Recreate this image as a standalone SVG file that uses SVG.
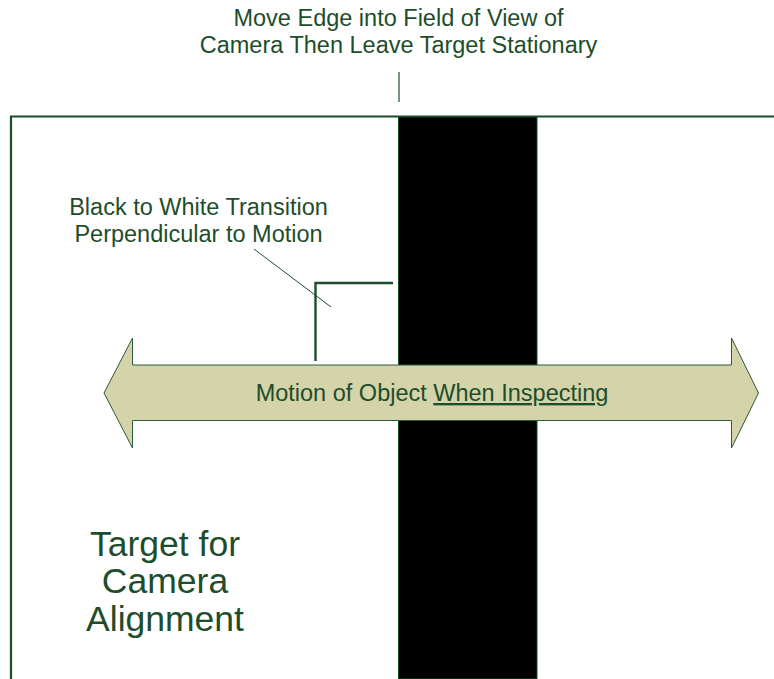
<svg xmlns="http://www.w3.org/2000/svg" width="774" height="679" viewBox="0 0 774 679">
<style>
  text { font-family: "Liberation Sans", Arial, sans-serif; fill: #1e4d2b; text-anchor: middle; }
  .lbl { font-size: 23.5px; }
  .big { font-size: 35.5px; }
  .ln { stroke: #1e4d2b; fill: none; }
</style>
<rect width="774" height="679" fill="#ffffff"/>
<g id="target">
  <path class="ln" d="M11,679 V116.5 H774" stroke-width="2.2"/>
  <rect x="398.5" y="117" width="138.5" height="562" fill="#000000" stroke="#1e4d2b" stroke-width="1"/>
  <text class="big" x="165" y="556">Target for</text>
  <text class="big" x="165" y="593">Camera</text>
  <text class="big" x="165" y="631">Alignment</text>
</g>
<g id="edge-label">
  <text class="lbl" x="398.5" y="26">Move Edge into Field of View of</text>
  <text class="lbl" x="398.5" y="53">Camera Then Leave Target Stationary</text>
</g>
<g id="transition-label">
  <text class="lbl" x="198.5" y="215">Black to White Transition</text>
  <text class="lbl" x="198.5" y="242">Perpendicular to Motion</text>
</g>
<g id="bracket">
  <path class="ln" d="M315.5,361 V283 H393" stroke-width="2.4"/>
</g>
<g id="motion-arrow">
  <polygon points="104,393 132.5,338 132.5,365 731.5,365 731.5,338 758.5,393 731.5,448 731.5,420.5 132.5,420.5 132.5,448" fill="#d4d3a9" stroke="#2d5a3a" stroke-width="1"/>
  <text class="lbl" x="432" y="401">Motion of Object <tspan text-decoration="underline">When Inspecting</tspan></text>
</g>
<g id="connectors">
  <line class="ln" x1="399" y1="72" x2="399" y2="102" stroke-width="1.2"/>
  <line class="ln" x1="254" y1="249" x2="331" y2="307" stroke-width="1"/>
</g>
</svg>
